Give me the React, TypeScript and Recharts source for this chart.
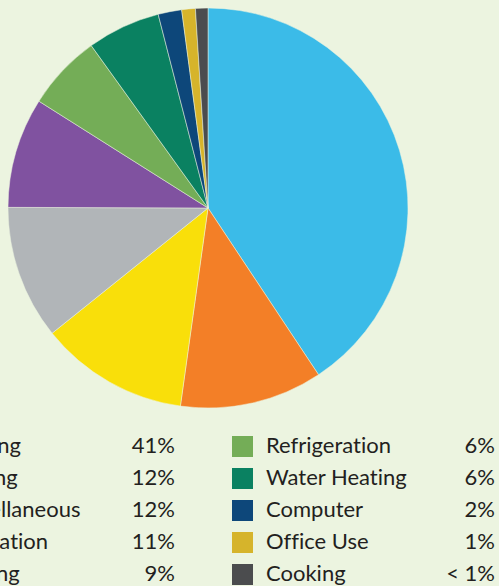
import React from 'react';
import { PieChart, Pie, Cell, Legend } from 'recharts';

const categories = ['Lighting', 'Cooling', 'Miscellaneous', 'Ventilation', 'Heating', 'Refrigeration', 'Water Heating', 'Computer', 'Office Use', 'Cooking'];
const shares = [40.6, 11.5, 12.0, 10.8, 8.9, 6.1, 5.9, 1.9, 1.1, 1.0];
const shareLabels = ['41%', '12%', '12%', '11%', '9%', '6%', '6%', '2%', '1%', '< 1%'];
const colors = ['#3BBBE8', '#F37F27', '#F9DF0A', '#B1B5B8', '#8052A0', '#74AD57', '#0A8161', '#0D477A', '#D6B42B', '#4B4C4E'];

const BG = '#ECF4E0';
const data = categories.map((name, i) => ({ name, value: shares[i], label: shareLabels[i], color: colors[i] }));

const textStyle: React.CSSProperties = { fontVariantLigatures: 'none', fontFeatureSettings: '"liga" 0, "clig" 0' };

const LegendContent = () => {
  const cols = [
    { swatchX: -90, labelX: -56, pctX: 175 },
    { swatchX: 232, labelX: 266, pctX: 495 },
  ];
  return (
    <svg width={499} height={586} style={{ position: 'absolute', left: 0, top: 0, overflow: 'visible' }}>
      {data.map((d, i) => {
        const col = cols[Math.floor(i / 5)];
        const row = i % 5;
        const baseY = 453 + row * 32;
        return (
          <g key={d.name}>
            <rect x={col.swatchX} y={baseY - 17} width={21} height={21} fill={d.color} />
            <text x={col.labelX} y={baseY} fontFamily="Lato" fontSize={22} fill="#231F20" style={textStyle}>{d.name}</text>
            <text x={col.pctX} y={baseY} fontFamily="Lato" fontSize={22} fill="#231F20" textAnchor="end" style={textStyle} xmlSpace="preserve">{d.label}</text>
          </g>
        );
      })}
    </svg>
  );
};

export default function App() {
  return (
    <div style={{ position: 'absolute', left: 0, top: 0, width: 499, height: 586, background: BG, overflow: 'hidden' }}>
      <PieChart width={499} height={586} margin={{ top: 0, right: 0, bottom: 0, left: 0 }}>
        <Pie
          data={data}
          dataKey="value"
          nameKey="name"
          cx={208}
          cy={208}
          outerRadius={200}
          startAngle={90}
          endAngle={-270}
          stroke={BG}
          strokeWidth={0.5}
          isAnimationActive={false}
        >
          {data.map((d) => (
            <Cell key={d.name} fill={d.color} />
          ))}
        </Pie>
        <Legend content={<LegendContent />} wrapperStyle={{ position: 'absolute', left: 0, top: 0, width: 499, height: 586 }} />
      </PieChart>
    </div>
  );
}
